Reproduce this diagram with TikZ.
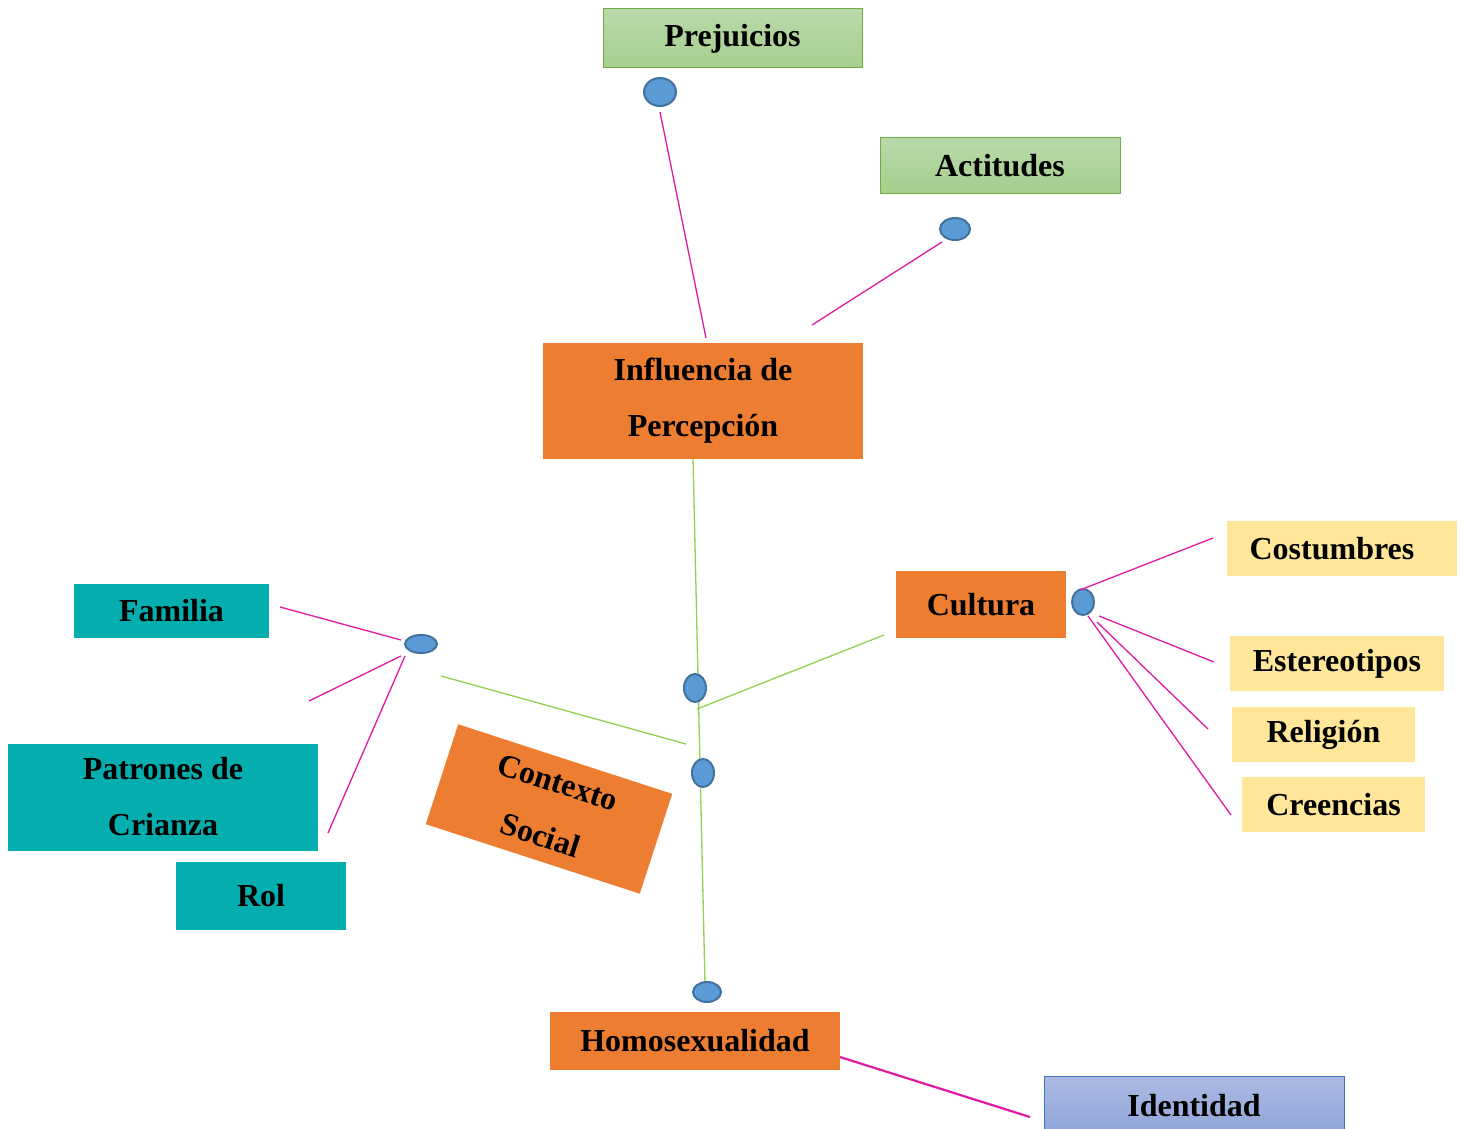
\documentclass[tikz,border=0pt]{standalone}
\usepackage{fontspec}
\setmainfont{Liberation Serif}
\usetikzlibrary{shapes.geometric}
\definecolor{coreor}{HTML}{ED7D31}
\definecolor{famteal}{HTML}{04AEAE}
\definecolor{culty}{HTML}{FFE699}
\definecolor{attrtop}{HTML}{B9D9AB}
\definecolor{attrbot}{HTML}{A6CF8C}
\definecolor{attrln}{HTML}{70AD47}
\definecolor{idtop}{HTML}{ADBAE3}
\definecolor{idbot}{HTML}{8DA4D8}
\definecolor{idln}{HTML}{4472C4}
\definecolor{dotf}{HTML}{5B9BD5}
\definecolor{dotl}{HTML}{41719C}
\definecolor{lnkc}{HTML}{E01AA0}
\definecolor{trunkc}{HTML}{92D050}

\begin{document}
\begin{tikzpicture}[x=1pt,y=-1pt,
box/.style={%
inner sep=0pt,
font=\fontsize{32}{56}\selectfont\bfseries,
align=center
},
core/.style={%
box,
fill=coreor
},
attr/.style={%
box,
top color=attrtop,
bottom color=attrbot,
draw=attrln,
line width=1pt
},
item/.style={%
box,
fill=culty
},
fam/.style={%
box,
fill=famteal
},
iden/.style={%
box,
top color=idtop,
bottom color=idbot,
draw=idln,
line width=1pt
},
dot/.style={%
ellipse,
inner sep=0pt,
fill=dotf,
draw=dotl,
line width=2pt
},
lnk/.style={%
draw=lnkc,
line width=1.3pt
},
trunk/.style={%
draw=trunkc,
line width=1.3pt
},
]
\useasboundingbox(0,0)rectangle(1461,1129);
%% trunk (behind the dots)
\coordinate(t0)at(693,458);
\coordinate(t1)at(705,984);
\coordinate(s0)at(441,676);
\coordinate(s1)at(686,744);
\coordinate(c0)at(697,709);
\coordinate(c1)at(884,635);
\draw[trunk](t0)--(t1);
\draw[trunk](s0)--(s1);
\draw[trunk](c0)--(c1);
%% Percepcion
\node[attr,minimum width=259pt,minimum height=59pt]at(732.5,38.5)(prej){Prejuicios};
\node[attr,minimum width=240pt,minimum height=55pt]at(1000,165.5)(act){Actitudes};
\node[core,minimum width=320pt,minimum height=116pt]at(703,401)(inf){Influencia de\\Percepción};
\node[dot,minimum width=32pt,minimum height=28pt]at(660,92)(d1){};
\node[dot,minimum width=30pt,minimum height=22pt]at(955,229)(d2){};
\coordinate(p0)at(660,112);
\coordinate(p1)at(706,338);
\coordinate(a0)at(942,242);
\coordinate(a1)at(812,325);
\draw[lnk](p0)--(p1);
\draw[lnk](a0)--(a1);
%% Cultura
\node[core,minimum width=170pt,minimum height=67pt]at(981,604.5)(cul){Cultura};
\node[item,minimum width=230pt,minimum height=55pt]at(1342,548.5)(cos){Costumbres\hspace*{20pt}};
\node[item,minimum width=214pt,minimum height=55pt]at(1337,663.5)(est){Estereotipos};
\node[item,minimum width=183pt,minimum height=55pt]at(1323.5,734.5)(rel){Religión};
\node[item,minimum width=183pt,minimum height=55pt]at(1333.5,804.5)(cre){Creencias};
\node[dot,minimum width=22pt,minimum height=26pt]at(1083,602)(d4){};
\coordinate(k0)at(1080,590);
\coordinate(k1)at(1213,538);
\coordinate(e0)at(1099,616);
\coordinate(e1)at(1214,662);
\coordinate(r0)at(1097,622);
\coordinate(r1)at(1208,729);
\coordinate(b0)at(1088,616);
\coordinate(b1)at(1231,815);
\draw[lnk](k0)--(k1);
\draw[lnk](e0)--(e1);
\draw[lnk](r0)--(r1);
\draw[lnk](b0)--(b1);
%% Contexto social
\node[core,rotate=-18,minimum width=225pt,minimum height=105pt]at(549,809)(ctx){Contexto\\Social};
\node[fam,minimum width=195pt,minimum height=54pt]at(171.5,611)(fa){Familia};
\node[fam,minimum width=310pt,minimum height=107pt]at(163,797)(pat){Patrones de\\Crianza};
\node[fam,minimum width=170pt,minimum height=68pt]at(261,896)(rol){Rol};
\node[dot,minimum width=32pt,minimum height=18pt]at(421,644)(d3){};
\coordinate(f0)at(401,640);
\coordinate(f1)at(280,607);
\coordinate(g0)at(401,656);
\coordinate(g1)at(309,701);
\coordinate(h0)at(405,656);
\coordinate(h1)at(328,833);
\draw[lnk](f0)--(f1);
\draw[lnk](g0)--(g1);
\draw[lnk](h0)--(h1);
\node[dot,minimum width=22pt,minimum height=28pt]at(695,688)(d5){};
\node[dot,minimum width=22pt,minimum height=28pt]at(703,773)(d6){};
%% Homosexualidad
\node[dot,minimum width=28pt,minimum height=20pt]at(707,992)(d7){};
\node[core,minimum width=290pt,minimum height=58pt]at(695,1041)(hom){Homosexualidad};
\node[iden,minimum width=300pt,minimum height=60pt]at(1194,1106)(ide){Identidad};
\coordinate(i0)at(840,1057);
\coordinate(i1)at(1030,1117);
\draw[lnk,line width=2.2pt](i0)--(i1);
\end{tikzpicture}
\end{document}
